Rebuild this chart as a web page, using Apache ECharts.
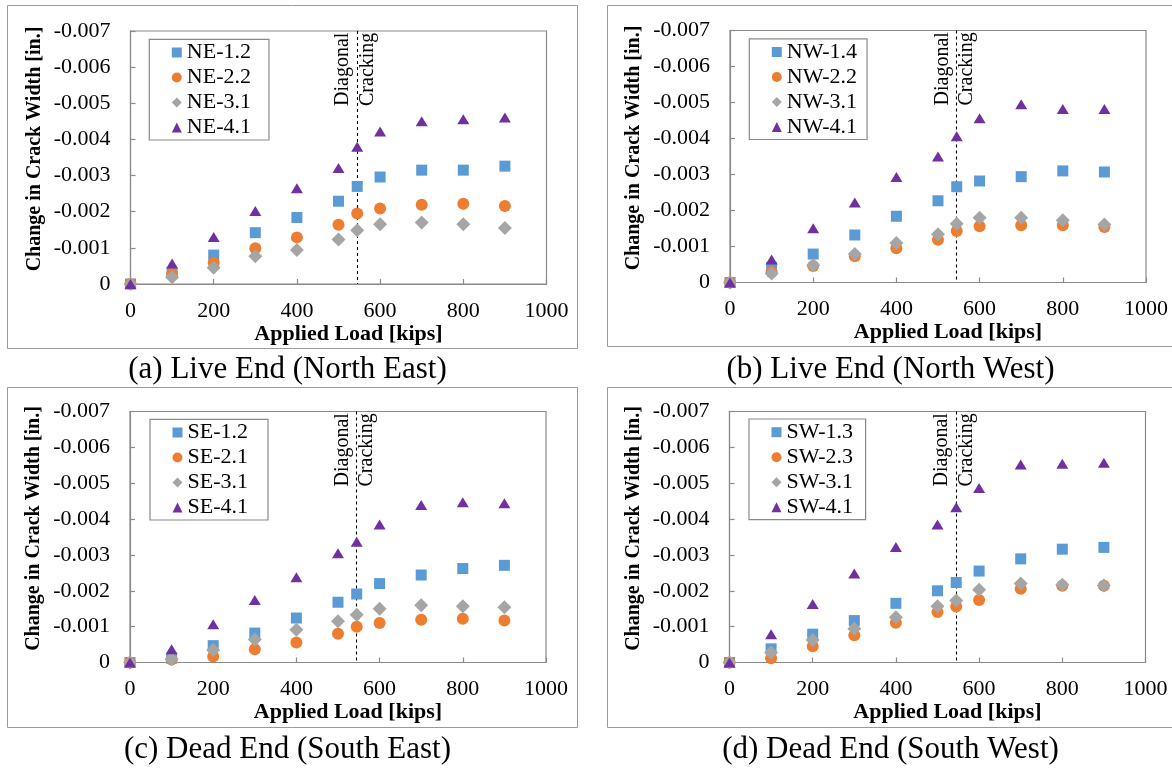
<!DOCTYPE html>
<html>
<head>
<meta charset="utf-8">
<script src="https://cdn.jsdelivr.net/npm/echarts@6.0.0/dist/echarts.min.js"></script>
<style>
  html, body { margin: 0; padding: 0; background: #ffffff; }
  #chart { width: 1172px; height: 770px; }
</style>
</head>
<body>
<div id="chart"></div>
<script>
// Applied load steps [kips]; 545 kips is the diagonal cracking load
const loads = [0, 100, 200, 300, 400, 500, 545, 600, 700, 800, 900];
const crackingLoad = 545;

// Change in crack width [in.] per gauge
// (a) Live End (North East)
const ne12 = [0, -0.00030, -0.00080, -0.00142, -0.00184, -0.00229, -0.00270, -0.00296, -0.00315, -0.00315, -0.00326];
const ne22 = [0, -0.00028, -0.00059, -0.00099, -0.00129, -0.00164, -0.00195, -0.00209, -0.00219, -0.00222, -0.00216];
const ne31 = [0, -0.00019, -0.00045, -0.00077, -0.00094, -0.00123, -0.00149, -0.00165, -0.00170, -0.00165, -0.00155];
const ne41 = [0, -0.00057, -0.00130, -0.00202, -0.00265, -0.00321, -0.00380, -0.00422, -0.00450, -0.00456, -0.00461];
// (b) Live End (North West)
const nw14 = [0, -0.00042, -0.00079, -0.00132, -0.00184, -0.00227, -0.00266, -0.00282, -0.00294, -0.00310, -0.00307];
const nw22 = [0, -0.00029, -0.00046, -0.00073, -0.00095, -0.00119, -0.00143, -0.00156, -0.00159, -0.00159, -0.00154];
const nw31 = [0, -0.00025, -0.00048, -0.00079, -0.00110, -0.00134, -0.00163, -0.00180, -0.00180, -0.00173, -0.00161];
const nw41 = [0, -0.00064, -0.00151, -0.00222, -0.00293, -0.00350, -0.00406, -0.00456, -0.00495, -0.00482, -0.00482];
// (c) Dead End (South East)
const se12 = [0, -0.00012, -0.00047, -0.00082, -0.00124, -0.00168, -0.00191, -0.00220, -0.00244, -0.00262, -0.00271];
const se21 = [0, -0.00008, -0.00017, -0.00037, -0.00056, -0.00080, -0.00100, -0.00110, -0.00119, -0.00122, -0.00117];
const se31 = [0, -0.00010, -0.00035, -0.00064, -0.00091, -0.00115, -0.00133, -0.00150, -0.00160, -0.00157, -0.00154];
const se41 = [0, -0.00037, -0.00107, -0.00174, -0.00238, -0.00305, -0.00337, -0.00385, -0.00439, -0.00447, -0.00444];
// (d) Dead End (South West)
const sw13 = [0, -0.00038, -0.00079, -0.00117, -0.00165, -0.00200, -0.00223, -0.00255, -0.00289, -0.00316, -0.00321];
const sw23 = [0, -0.00012, -0.00045, -0.00076, -0.00111, -0.00141, -0.00156, -0.00174, -0.00206, -0.00214, -0.00214];
const sw31 = [0, -0.00028, -0.00063, -0.00094, -0.00126, -0.00157, -0.00173, -0.00203, -0.00220, -0.00217, -0.00215];
const sw41 = [0, -0.00079, -0.00163, -0.00248, -0.00322, -0.00385, -0.00433, -0.00487, -0.00552, -0.00554, -0.00557];

// Series names and panel captions
const namesNE = ['NE-1.2', 'NE-2.2', 'NE-3.1', 'NE-4.1'];
const namesNW = ['NW-1.4', 'NW-2.2', 'NW-3.1', 'NW-4.1'];
const namesSE = ['SE-1.2', 'SE-2.1', 'SE-3.1', 'SE-4.1'];
const namesSW = ['SW-1.3', 'SW-2.3', 'SW-3.1', 'SW-4.1'];
const captions = ['(a) Live End (North East)', '(b) Live End (North West)',
                  '(c) Dead End (South East)', '(d) Dead End (South West)'];

// Axis ranges and titles
const xMin = 0, xMax = 1000, xStep = 200;
const yMin = -0.007, yMax = 0, yStep = 0.001;
const xTitle = 'Applied Load [kips]';
const yTitle = 'Change in Crack Width [in.]';
const crackText = ['Diagonal', 'Cracking'];

// ---- styling / layout ----
const SERIF = '"Liberation Serif", "Times New Roman", Times, serif';
const AXIS_GRAY = '#8a8a8a';
const FRAME_GRAY = '#9a9a9a';
const markers = [
  { symbol: 'rect',     size: 11,       color: '#5B9BD5' },
  { symbol: 'circle',   size: 12,       color: '#ED7D31' },
  { symbol: 'diamond',  size: 14,       color: '#A5A5A5' },
  { symbol: 'triangle', size: [12, 10], color: '#7030A0' }
];

const panels = [
  { names: namesNE, values: [ne12, ne22, ne31, ne41],
    grid: { left: 130.5, top: 31, width: 416, height: 253 },
    legend: { left: 149.3, top: 39.3, padRight: 18 },
    caption: [287.5, 370], frame: [7, 5, 570, 343] },
  { names: namesNW, values: [nw14, nw22, nw31, nw41],
    grid: { left: 730, top: 30.5, width: 416, height: 252 },
    legend: { left: 749.3, top: 38.8, padRight: 10 },
    caption: [890.5, 370], frame: [607, 5, 565, 341] },
  { names: namesSE, values: [se12, se21, se31, se41],
    grid: { left: 130, top: 411.5, width: 416, height: 251 },
    legend: { left: 150, top: 419.3, padRight: 20 },
    caption: [287.5, 750], frame: [7, 387, 570, 340] },
  { names: namesSW, values: [sw13, sw23, sw31, sw41],
    grid: { left: 729.5, top: 411.5, width: 416, height: 251 },
    legend: { left: 749, top: 419, padRight: 12.5 },
    caption: [890.5, 750], frame: [607, 387, 565, 340] }
];

const grids = [], xAxes = [], yAxes = [], legends = [], series = [], graphics = [];

panels.forEach((p, k) => {
  grids.push(Object.assign({
    show: true, borderColor: AXIS_GRAY, borderWidth: 1.2, backgroundColor: 'transparent'
  }, p.grid));

  xAxes.push({
    gridIndex: k, type: 'value', min: xMin, max: xMax, interval: xStep,
    name: xTitle, nameLocation: 'middle', nameGap: 36,
    nameTextStyle: { fontFamily: SERIF, fontSize: 22, fontWeight: 'bold', color: '#000', padding: [0, 0, 0, 20] },
    axisLine: { show: true, onZero: false, lineStyle: { color: AXIS_GRAY, width: 1.2 } },
    axisTick: { show: true, inside: true, length: 5, lineStyle: { color: AXIS_GRAY, width: 1.2 } },
    axisLabel: { fontFamily: SERIF, fontSize: 22, color: '#000', margin: 16, formatter: v => String(v) },
    splitLine: { show: false }
  });

  yAxes.push({
    gridIndex: k, type: 'value', min: yMin, max: yMax, interval: yStep, inverse: true,
    name: yTitle, nameLocation: 'middle', nameGap: 86, nameRotate: 90,
    nameTextStyle: { fontFamily: SERIF, fontSize: 20, fontWeight: 'bold', color: '#000', padding: [0, 0, 0, 17] },
    axisLine: { show: true, onZero: false, lineStyle: { color: AXIS_GRAY, width: 1.2 } },
    axisTick: { show: true, inside: true, length: 5, lineStyle: { color: AXIS_GRAY, width: 1.2 } },
    axisLabel: {
      fontFamily: SERIF, fontSize: 22, color: '#000', margin: 20,
      formatter: v => (Math.abs(v) < 1e-12 ? '0' : v.toFixed(3))
    },
    splitLine: { show: false }
  });

  legends.push({
    data: p.names, orient: 'vertical',
    left: p.legend.left, top: p.legend.top,
    padding: [2.2, p.legend.padRight, 1.5, 22.5],
    itemGap: 3, itemWidth: 10, itemHeight: 10,
    backgroundColor: '#fff', borderColor: AXIS_GRAY, borderWidth: 1.2, borderRadius: 0,
    selectedMode: false,
    textStyle: { fontFamily: SERIF, fontSize: 22, lineHeight: 22, color: '#000' }
  });

  p.names.forEach((name, i) => {
    const m = markers[i];
    const s = {
      name: name, type: 'scatter', xAxisIndex: k, yAxisIndex: k,
      symbol: m.symbol, symbolSize: m.size,
      itemStyle: { color: m.color, opacity: 1 },
      data: loads.map((x, j) => [x, p.values[i][j]]),
      z: 3 + i
    };
    if (i === 0) {
      s.markLine = {
        silent: true, symbol: 'none', animation: false,
        label: { show: false },
        lineStyle: { color: '#000', type: [3, 3], width: 1.1 },
        data: [{ xAxis: crackingLoad }],
        z: 2
      };
    }
    series.push(s);
  });

  const f = p.frame;
  graphics.push({
    type: 'rect', shape: { x: f[0] + 0.5, y: f[1] + 0.5, width: f[2], height: f[3] },
    style: { fill: 'none', stroke: FRAME_GRAY, lineWidth: 1 }, z: -10, silent: true
  });
  graphics.push({
    type: 'text', x: p.caption[0], y: p.caption[1], silent: true,
    style: { text: captions[k], font: '31px ' + SERIF, fill: '#000', align: 'center', verticalAlign: 'middle' }
  });
});

const chart = echarts.init(document.getElementById('chart'), null, { renderer: 'canvas' });
chart.setOption({
  animation: false,
  backgroundColor: '#ffffff',
  grid: grids, xAxis: xAxes, yAxis: yAxes, legend: legends, series: series,
  graphic: graphics
});

// "Diagonal / Cracking" note placed on each side of the cracking-load line
const notes = [];
panels.forEach((p, k) => {
  const px = chart.convertToPixel({ xAxisIndex: k }, crackingLoad);
  const yBase = p.grid.top + 75;
  notes.push({
    type: 'text', x: px - 14, y: yBase, rotation: Math.PI / 2, silent: true,
    style: { text: crackText[0], font: '20px ' + SERIF, fill: '#000', align: 'left', verticalAlign: 'middle' }
  });
  notes.push({
    type: 'text', x: px + 10.5, y: yBase, rotation: Math.PI / 2, silent: true,
    style: { text: crackText[1], font: '20px ' + SERIF, fill: '#000', align: 'left', verticalAlign: 'middle' }
  });
});
chart.setOption({ graphic: graphics.concat(notes) });
</script>
</body>
</html>
